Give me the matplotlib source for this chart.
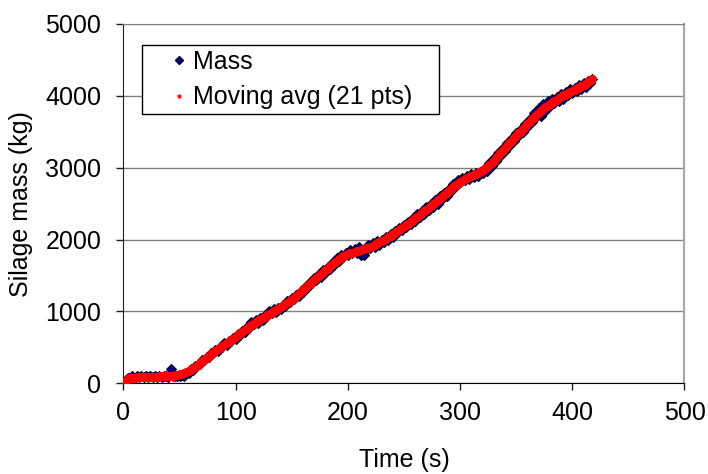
import numpy as np
import matplotlib
matplotlib.use("Agg")
import matplotlib.pyplot as plt
from matplotlib.lines import Line2D
from matplotlib.legend_handler import HandlerLine2D

plt.rcParams['font.family'] = ['Liberation Sans', 'DejaVu Sans']

# ---------------- data (2 s spacing) ----------------
time_s = np.arange(0, 420, 2)

mass_kg = [
    0, 45, 70, 80, 95, 80, 100, 85, 95, 90,
    100, 85, 95, 90, 100, 85, 95, 90, 100, 95,
    90, 205, 100, 95, 105, 100, 110, 100, 150, 140,
    195, 190, 240, 250, 275, 320, 320, 370, 365, 415,
    420, 470, 455, 510, 505, 555, 540, 595, 590, 635,
    620, 685, 670, 735, 720, 790, 770, 850, 820, 880,
    845, 905, 880, 945, 930, 1000, 975, 1030, 995, 1055,
    1030, 1090, 1070, 1140, 1130, 1190, 1170, 1230, 1215, 1285,
    1265, 1345, 1320, 1405, 1390, 1470, 1440, 1520, 1485, 1570,
    1540, 1625, 1590, 1680, 1650, 1740, 1700, 1790, 1760, 1820,
    1790, 1855, 1810, 1870, 1820, 1900, 1790, 1780, 1860, 1930,
    1880, 1950, 1900, 1975, 1930, 2000, 1970, 2040, 2000, 2075,
    2040, 2120, 2090, 2165, 2130, 2205, 2170, 2250, 2210, 2300,
    2265, 2350, 2310, 2400, 2360, 2450, 2410, 2500, 2460, 2550,
    2500, 2600, 2560, 2650, 2600, 2710, 2670, 2775, 2740, 2830,
    2800, 2860, 2830, 2890, 2850, 2910, 2870, 2930, 2890, 2945,
    2920, 3000, 2960, 3060, 3020, 3130, 3090, 3200, 3160, 3270,
    3230, 3340, 3300, 3410, 3370, 3480, 3440, 3545, 3500, 3610,
    3570, 3680, 3630, 3760, 3700, 3830, 3720, 3880, 3790, 3930,
    3860, 3960, 3900, 3990, 3930, 4020, 3960, 4050, 4010, 4090,
    4040, 4110, 4070, 4150, 4100, 4180, 4130, 4210, 4180, 4240,
]
mass_kg = np.array(mass_kg, dtype=float)

# moving average over 20 s (21 pts at 1 s = 11 pts at 2 s), centred,
# window shrinks symmetrically near the ends
half = 5
mov_avg = np.empty_like(mass_kg)
for i in range(len(mass_kg)):
    h = min(half, i, len(mass_kg) - 1 - i)
    mov_avg[i] = mass_kg[i - h:i + h + 1].mean()

# ---------------- figure ----------------
fig = plt.figure(figsize=(7.08, 4.74), dpi=100)
ax = fig.add_axes([0.1744, 0.1913, 0.7924, 0.7581])

ax.plot(time_s, mass_kg, ls='none', marker='D', ms=5.5, color='#000080',
        mec='#000030', mew=0.8, zorder=3)
ax.plot(time_s, mov_avg, ls='none', marker='o', ms=6.5, color='#ff0000',
        mec='none', zorder=4)

ax.set_xlim(0, 500)
ax.set_ylim(0, 5000)
ax.set_xticks(range(0, 501, 100))
ax.set_yticks(range(0, 5001, 1000))
ax.yaxis.grid(True, color='#808080', lw=1.0)
ax.set_axisbelow(True)

ax.spines['left'].set_color('#202020')
ax.spines['bottom'].set_color('#000000')
ax.spines['top'].set_color('#808080')
ax.spines['right'].set_color('#a8a8a8')
ax.spines['right'].set_linewidth(1.6)
ax.tick_params(axis='y', direction='out', length=5, width=1, pad=11,
               labelsize=18, color='#202020')
ax.tick_params(axis='x', direction='out', length=5, width=1, pad=8,
               labelsize=18, color='#202020')

ax.set_xlabel('Time (s)', fontsize=18, labelpad=16)
ax.set_ylabel('Silage mass (kg)', fontsize=18, labelpad=9)

handles = [
    Line2D([], [], ls='none', marker='D', ms=4.5, color='#000080', mec='#000030'),
    Line2D([], [], ls='none', marker='o', ms=3, color='#ff0000', mec='none'),
]
leg = ax.legend(handles, ['Mass', 'Moving avg (21 pts)'],
                loc='upper left', bbox_to_anchor=(0.033, 0.7515, 0.529, 0.19),
                mode='expand', borderaxespad=0, fontsize=18, fancybox=False,
                framealpha=1, edgecolor='black', borderpad=0.2,
                labelspacing=0.45, handlelength=1.6, handletextpad=0.26,
                handler_map={Line2D: HandlerLine2D(xpad=1.0)})
leg.get_frame().set_linewidth(1.0)

fig.savefig('out.png', dpi=100)
